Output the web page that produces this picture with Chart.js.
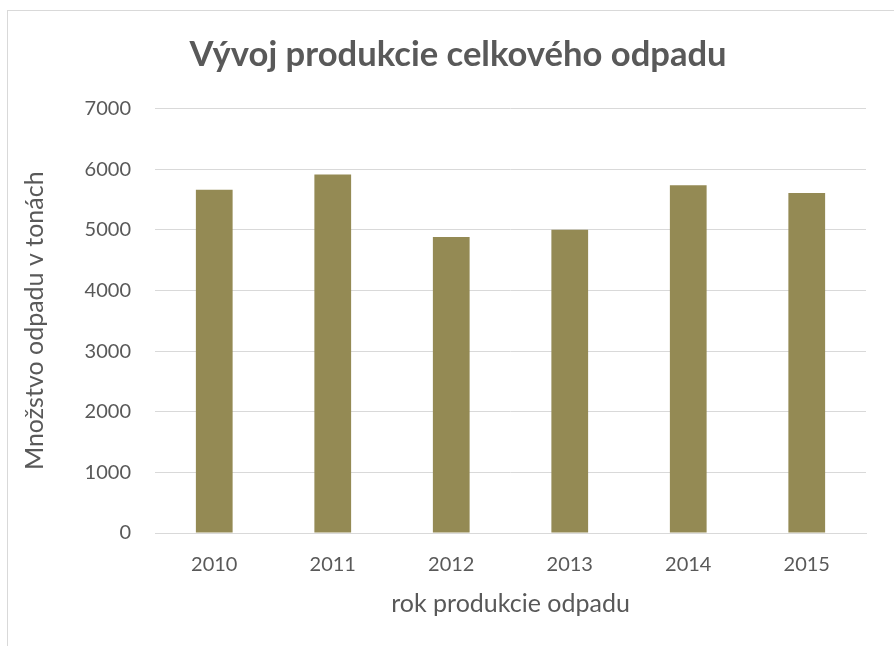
<!DOCTYPE html>
<html>
<head>
<meta charset="utf-8">
<script src="https://cdn.jsdelivr.net/npm/chart.js@4.4.0/dist/chart.umd.min.js"></script>
<style>
    html, body { margin: 0; padding: 0; background: #fff; }
    #frame {
        position: absolute; left: 7px; top: 10px; width: 900px; height: 660px;
        border: 1px solid #d9d9d9;
    }
    #wrap { position: absolute; left: 0; top: 0; width: 894px; height: 646px; }
</style>
</head>
<body>
<div id="frame"></div>
<div id="wrap"><canvas id="chart" width="894" height="646"></canvas></div>
<script>
    // data
    var years = ['2010', '2011', '2012', '2013', '2014', '2015'];
    var tons = [5660, 5910, 4880, 5000, 5735, 5605];
    var yTicks = [0, 1000, 2000, 3000, 4000, 5000, 6000, 7000];

    var textColor = '#595959';
    var gridColor = '#d9d9d9';
    var fontFamily = 'Lato, "Open Sans", sans-serif';

    Chart.defaults.font.family = fontFamily;
    Chart.defaults.color = textColor;

    new Chart(document.getElementById('chart'), {
        type: 'bar',
        data: {
            labels: years,
            datasets: [{
                data: tons,
                backgroundColor: '#948a54',
                borderWidth: 0,
                barPercentage: 0.62,
                categoryPercentage: 0.5
            }]
        },
        options: {
            responsive: false,
            animation: false,
            // left padding is wider so the chart title sits where it does in the original
            layout: { padding: { left: 50, right: 28, top: 0, bottom: 0 } },
            plugins: {
                legend: { display: false },
                tooltip: { enabled: false },
                title: {
                    display: true,
                    text: 'Vývoj produkcie celkového odpadu',
                    color: textColor,
                    font: { size: 34.6, weight: 'bold' },
                    padding: { top: 34, bottom: 33 }
                }
            },
            scales: {
                x: {
                    afterFit: function (scale) { scale.height = 113; },
                    grid: { display: false, drawTicks: false },
                    border: { color: gridColor, width: 1 },
                    ticks: { font: { size: 20 }, padding: 20, color: textColor },
                    title: {
                        display: true,
                        text: 'rok produkcie odpadu',
                        font: { size: 25 },
                        color: textColor,
                        padding: { top: 0, bottom: 27 }
                    }
                },
                y: {
                    min: 0,
                    max: 7000,
                    afterBuildTicks: function (scale) {
                        scale.ticks = yTicks.map(function (v) { return { value: v }; });
                    },
                    afterFit: function (scale) { scale.width = 105; },
                    grid: { color: gridColor, lineWidth: 1, drawTicks: false },
                    border: { display: false },
                    ticks: {
                        font: { size: 20 },
                        padding: 24,
                        color: textColor,
                        callback: function (value) { return String(value); }
                    },
                    title: {
                        display: true,
                        text: 'Množstvo odpadu v tonách',
                        font: { size: 25 },
                        color: textColor,
                        // pulls the axis title back left, out of the padded area
                        padding: { top: -30, bottom: 0 }
                    }
                }
            }
        }
    });
</script>
</body>
</html>
